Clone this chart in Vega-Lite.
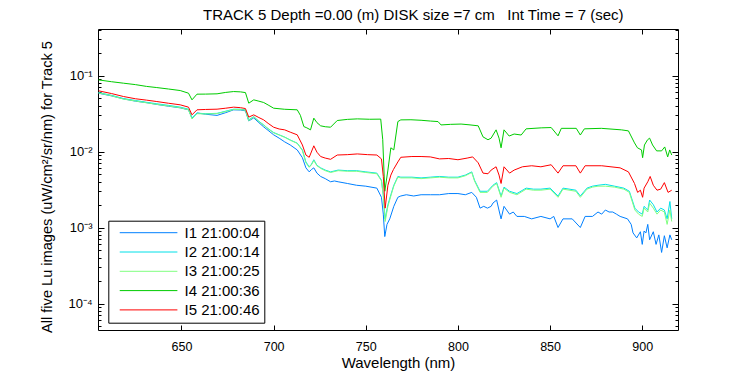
{
"$schema": "https://vega.github.io/schema/vega-lite/v6.json",
"width": 580, "height": 301,
"autosize": {"type": "none"},
"padding": {"left": 98, "top": 29, "right": 72, "bottom": 45},
"background": "white",
"config": {"view": {"stroke": "black", "strokeWidth": 1}, "font": "Liberation Sans",
  "axis": {"grid": false, "domainColor": "black", "tickColor": "black", "labelColor": "black", "titleColor": "black", "titleFontWeight": "normal", "labelFont": "Liberation Sans", "titleFont": "Liberation Sans"}},
"title": {"text": "TRACK 5 Depth =0.00 (m) DISK size =7 cm\u00a0\u00a0 Int Time = 7 (sec)", "anchor": "start", "frame": "group", "dx": 105, "offset": 6, "fontSize": 15, "fontWeight": "normal", "font": "Liberation Sans", "color": "black"},
"datasets": {"d": [
{"s":"I1 21:00:04","wl":605,"v":0.0586},{"s":"I1 21:00:04","wl":612,"v":0.054},{"s":"I1 21:00:04","wl":618.5,"v":0.0494},{"s":"I1 21:00:04","wl":625,"v":0.046},{"s":"I1 21:00:04","wl":631,"v":0.044},{"s":"I1 21:00:04","wl":636.6,"v":0.0417},{"s":"I1 21:00:04","wl":643,"v":0.0395},{"s":"I1 21:00:04","wl":649.3,"v":0.0376},{"s":"I1 21:00:04","wl":653.8,"v":0.0354},{"s":"I1 21:00:04","wl":655.7,"v":0.0277},{"s":"I1 21:00:04","wl":658.4,"v":0.0322},{"s":"I1 21:00:04","wl":663,"v":0.031},{"s":"I1 21:00:04","wl":669.3,"v":0.0299},{"s":"I1 21:00:04","wl":674,"v":0.0325},{"s":"I1 21:00:04","wl":678.3,"v":0.0354},{"s":"I1 21:00:04","wl":682,"v":0.0352},{"s":"I1 21:00:04","wl":684.7,"v":0.0343},{"s":"I1 21:00:04","wl":686.5,"v":0.0253},{"s":"I1 21:00:04","wl":689.2,"v":0.0277},{"s":"I1 21:00:04","wl":692,"v":0.024},{"s":"I1 21:00:04","wl":694.6,"v":0.0211},{"s":"I1 21:00:04","wl":697,"v":0.019},{"s":"I1 21:00:04","wl":700,"v":0.0166},{"s":"I1 21:00:04","wl":703,"v":0.015},{"s":"I1 21:00:04","wl":706,"v":0.0134},{"s":"I1 21:00:04","wl":709,"v":0.0122},{"s":"I1 21:00:04","wl":712.8,"v":0.0105},{"s":"I1 21:00:04","wl":715.6,"v":0.0083},{"s":"I1 21:00:04","wl":717.5,"v":0.0061},{"s":"I1 21:00:04","wl":719.3,"v":0.0054},{"s":"I1 21:00:04","wl":720.5,"v":0.0058},{"s":"I1 21:00:04","wl":721.8,"v":0.0061},{"s":"I1 21:00:04","wl":723.5,"v":0.0052},{"s":"I1 21:00:04","wl":725.5,"v":0.0047},{"s":"I1 21:00:04","wl":728,"v":0.0044},{"s":"I1 21:00:04","wl":730.9,"v":0.004},{"s":"I1 21:00:04","wl":733,"v":0.0041},{"s":"I1 21:00:04","wl":735,"v":0.004},{"s":"I1 21:00:04","wl":740,"v":0.0038},{"s":"I1 21:00:04","wl":745,"v":0.0036},{"s":"I1 21:00:04","wl":750,"v":0.0035},{"s":"I1 21:00:04","wl":756,"v":0.0033},{"s":"I1 21:00:04","wl":758.5,"v":0.0025},{"s":"I1 21:00:04","wl":759.5,"v":0.0015},{"s":"I1 21:00:04","wl":760.3,"v":0.00076},{"s":"I1 21:00:04","wl":761.5,"v":0.0011},{"s":"I1 21:00:04","wl":763,"v":0.0013},{"s":"I1 21:00:04","wl":765.2,"v":0.0019},{"s":"I1 21:00:04","wl":767.4,"v":0.0025},{"s":"I1 21:00:04","wl":769,"v":0.0026},{"s":"I1 21:00:04","wl":772,"v":0.0027},{"s":"I1 21:00:04","wl":776,"v":0.0026},{"s":"I1 21:00:04","wl":780,"v":0.0027},{"s":"I1 21:00:04","wl":785,"v":0.0027},{"s":"I1 21:00:04","wl":790,"v":0.0027},{"s":"I1 21:00:04","wl":795,"v":0.0028},{"s":"I1 21:00:04","wl":800,"v":0.0028},{"s":"I1 21:00:04","wl":804,"v":0.0027},{"s":"I1 21:00:04","wl":807.5,"v":0.0029},{"s":"I1 21:00:04","wl":810,"v":0.0025},{"s":"I1 21:00:04","wl":812,"v":0.0018},{"s":"I1 21:00:04","wl":814,"v":0.0019},{"s":"I1 21:00:04","wl":816,"v":0.0018},{"s":"I1 21:00:04","wl":818,"v":0.0019},{"s":"I1 21:00:04","wl":819,"v":0.0021},{"s":"I1 21:00:04","wl":821,"v":0.0023},{"s":"I1 21:00:04","wl":822.5,"v":0.0016},{"s":"I1 21:00:04","wl":823.4,"v":0.0013},{"s":"I1 21:00:04","wl":825,"v":0.0019},{"s":"I1 21:00:04","wl":828,"v":0.0015},{"s":"I1 21:00:04","wl":830,"v":0.0016},{"s":"I1 21:00:04","wl":832,"v":0.0014},{"s":"I1 21:00:04","wl":836,"v":0.0014},{"s":"I1 21:00:04","wl":840,"v":0.0013},{"s":"I1 21:00:04","wl":845,"v":0.0014},{"s":"I1 21:00:04","wl":850,"v":0.0013},{"s":"I1 21:00:04","wl":852,"v":0.0014},{"s":"I1 21:00:04","wl":854.3,"v":0.001},{"s":"I1 21:00:04","wl":857,"v":0.0013},{"s":"I1 21:00:04","wl":862,"v":0.0013},{"s":"I1 21:00:04","wl":866.4,"v":0.001},{"s":"I1 21:00:04","wl":869,"v":0.0014},{"s":"I1 21:00:04","wl":873,"v":0.0014},{"s":"I1 21:00:04","wl":876,"v":0.0016},{"s":"I1 21:00:04","wl":878,"v":0.0015},{"s":"I1 21:00:04","wl":880,"v":0.0017},{"s":"I1 21:00:04","wl":882,"v":0.0016},{"s":"I1 21:00:04","wl":884,"v":0.0016},{"s":"I1 21:00:04","wl":886,"v":0.0015},{"s":"I1 21:00:04","wl":888,"v":0.0014},{"s":"I1 21:00:04","wl":892,"v":0.0013},{"s":"I1 21:00:04","wl":894,"v":0.0011},{"s":"I1 21:00:04","wl":895,"v":0.00085},{"s":"I1 21:00:04","wl":897,"v":0.00073},{"s":"I1 21:00:04","wl":899,"v":0.00088},{"s":"I1 21:00:04","wl":900,"v":0.0006},{"s":"I1 21:00:04","wl":901,"v":0.0009},{"s":"I1 21:00:04","wl":902,"v":0.00085},{"s":"I1 21:00:04","wl":903,"v":0.0011},{"s":"I1 21:00:04","wl":904,"v":0.00069},{"s":"I1 21:00:04","wl":906,"v":0.00088},{"s":"I1 21:00:04","wl":907.5,"v":0.0006},{"s":"I1 21:00:04","wl":909,"v":0.0008},{"s":"I1 21:00:04","wl":910.5,"v":0.00047},{"s":"I1 21:00:04","wl":912,"v":0.00078},{"s":"I1 21:00:04","wl":913.5,"v":0.00054},{"s":"I1 21:00:04","wl":915,"v":0.0008},{"s":"I1 21:00:04","wl":916,"v":0.00069},
{"s":"I2 21:00:14","wl":605,"v":0.0597},{"s":"I2 21:00:14","wl":612,"v":0.055},{"s":"I2 21:00:14","wl":618.5,"v":0.0498},{"s":"I2 21:00:14","wl":625,"v":0.047},{"s":"I2 21:00:14","wl":631,"v":0.0445},{"s":"I2 21:00:14","wl":636.6,"v":0.0425},{"s":"I2 21:00:14","wl":643,"v":0.0405},{"s":"I2 21:00:14","wl":649.3,"v":0.0384},{"s":"I2 21:00:14","wl":653.8,"v":0.0361},{"s":"I2 21:00:14","wl":655.7,"v":0.0275},{"s":"I2 21:00:14","wl":658.4,"v":0.032},{"s":"I2 21:00:14","wl":663,"v":0.0315},{"s":"I2 21:00:14","wl":669.3,"v":0.0318},{"s":"I2 21:00:14","wl":674,"v":0.034},{"s":"I2 21:00:14","wl":678.3,"v":0.0361},{"s":"I2 21:00:14","wl":682,"v":0.036},{"s":"I2 21:00:14","wl":684.7,"v":0.0354},{"s":"I2 21:00:14","wl":686.5,"v":0.0261},{"s":"I2 21:00:14","wl":689.2,"v":0.0289},{"s":"I2 21:00:14","wl":692,"v":0.025},{"s":"I2 21:00:14","wl":694.6,"v":0.0224},{"s":"I2 21:00:14","wl":697,"v":0.02},{"s":"I2 21:00:14","wl":700,"v":0.0178},{"s":"I2 21:00:14","wl":703,"v":0.0166},{"s":"I2 21:00:14","wl":706,"v":0.0155},{"s":"I2 21:00:14","wl":709,"v":0.0142},{"s":"I2 21:00:14","wl":712.8,"v":0.0129},{"s":"I2 21:00:14","wl":715.6,"v":0.0105},{"s":"I2 21:00:14","wl":717.5,"v":0.0073},{"s":"I2 21:00:14","wl":719.3,"v":0.0063},{"s":"I2 21:00:14","wl":720.5,"v":0.0068},{"s":"I2 21:00:14","wl":721.8,"v":0.0078},{"s":"I2 21:00:14","wl":723.5,"v":0.0066},{"s":"I2 21:00:14","wl":725.5,"v":0.0061},{"s":"I2 21:00:14","wl":728,"v":0.0057},{"s":"I2 21:00:14","wl":730.9,"v":0.0054},{"s":"I2 21:00:14","wl":735,"v":0.0057},{"s":"I2 21:00:14","wl":740,"v":0.0056},{"s":"I2 21:00:14","wl":745,"v":0.0056},{"s":"I2 21:00:14","wl":750,"v":0.0054},{"s":"I2 21:00:14","wl":756,"v":0.0052},{"s":"I2 21:00:14","wl":758.5,"v":0.0042},{"s":"I2 21:00:14","wl":759.5,"v":0.0027},{"s":"I2 21:00:14","wl":760.5,"v":0.0013},{"s":"I2 21:00:14","wl":762,"v":0.002},{"s":"I2 21:00:14","wl":763.6,"v":0.0027},{"s":"I2 21:00:14","wl":765.2,"v":0.0036},{"s":"I2 21:00:14","wl":767.4,"v":0.0047},{"s":"I2 21:00:14","wl":769,"v":0.0046},{"s":"I2 21:00:14","wl":775,"v":0.0046},{"s":"I2 21:00:14","wl":780,"v":0.0045},{"s":"I2 21:00:14","wl":785,"v":0.0046},{"s":"I2 21:00:14","wl":790,"v":0.0047},{"s":"I2 21:00:14","wl":795,"v":0.0046},{"s":"I2 21:00:14","wl":800,"v":0.0046},{"s":"I2 21:00:14","wl":804,"v":0.0049},{"s":"I2 21:00:14","wl":807.5,"v":0.0054},{"s":"I2 21:00:14","wl":809,"v":0.0042},{"s":"I2 21:00:14","wl":812,"v":0.003},{"s":"I2 21:00:14","wl":816,"v":0.003},{"s":"I2 21:00:14","wl":819,"v":0.0036},{"s":"I2 21:00:14","wl":821,"v":0.0039},{"s":"I2 21:00:14","wl":823.4,"v":0.0026},{"s":"I2 21:00:14","wl":825,"v":0.0034},{"s":"I2 21:00:14","wl":828,"v":0.003},{"s":"I2 21:00:14","wl":832,"v":0.0028},{"s":"I2 21:00:14","wl":837,"v":0.0033},{"s":"I2 21:00:14","wl":841,"v":0.0032},{"s":"I2 21:00:14","wl":845,"v":0.0032},{"s":"I2 21:00:14","wl":850,"v":0.0033},{"s":"I2 21:00:14","wl":854.3,"v":0.0026},{"s":"I2 21:00:14","wl":857,"v":0.0033},{"s":"I2 21:00:14","wl":864,"v":0.0031},{"s":"I2 21:00:14","wl":866.4,"v":0.0026},{"s":"I2 21:00:14","wl":870,"v":0.0033},{"s":"I2 21:00:14","wl":873,"v":0.0035},{"s":"I2 21:00:14","wl":876,"v":0.0036},{"s":"I2 21:00:14","wl":880,"v":0.0037},{"s":"I2 21:00:14","wl":885,"v":0.0035},{"s":"I2 21:00:14","wl":890,"v":0.0033},{"s":"I2 21:00:14","wl":893,"v":0.003},{"s":"I2 21:00:14","wl":896,"v":0.0018},{"s":"I2 21:00:14","wl":898,"v":0.0016},{"s":"I2 21:00:14","wl":900,"v":0.0015},{"s":"I2 21:00:14","wl":901,"v":0.0019},{"s":"I2 21:00:14","wl":903,"v":0.0017},{"s":"I2 21:00:14","wl":904,"v":0.0023},{"s":"I2 21:00:14","wl":906,"v":0.002},{"s":"I2 21:00:14","wl":908,"v":0.0016},{"s":"I2 21:00:14","wl":910,"v":0.0018},{"s":"I2 21:00:14","wl":912,"v":0.0017},{"s":"I2 21:00:14","wl":913.5,"v":0.0013},{"s":"I2 21:00:14","wl":915,"v":0.0022},{"s":"I2 21:00:14","wl":916,"v":0.0013},
{"s":"I3 21:00:25","wl":605,"v":0.059},{"s":"I3 21:00:25","wl":612,"v":0.0543},{"s":"I3 21:00:25","wl":618.5,"v":0.049},{"s":"I3 21:00:25","wl":625,"v":0.0463},{"s":"I3 21:00:25","wl":631,"v":0.0438},{"s":"I3 21:00:25","wl":636.6,"v":0.0418},{"s":"I3 21:00:25","wl":643,"v":0.0398},{"s":"I3 21:00:25","wl":649.3,"v":0.0378},{"s":"I3 21:00:25","wl":653.8,"v":0.0355},{"s":"I3 21:00:25","wl":655.7,"v":0.0268},{"s":"I3 21:00:25","wl":658.4,"v":0.0315},{"s":"I3 21:00:25","wl":663,"v":0.0312},{"s":"I3 21:00:25","wl":669.3,"v":0.0316},{"s":"I3 21:00:25","wl":674,"v":0.0336},{"s":"I3 21:00:25","wl":678.3,"v":0.0357},{"s":"I3 21:00:25","wl":682,"v":0.0356},{"s":"I3 21:00:25","wl":684.7,"v":0.035},{"s":"I3 21:00:25","wl":686.5,"v":0.0255},{"s":"I3 21:00:25","wl":689.2,"v":0.0286},{"s":"I3 21:00:25","wl":692,"v":0.0248},{"s":"I3 21:00:25","wl":694.6,"v":0.0222},{"s":"I3 21:00:25","wl":697,"v":0.0199},{"s":"I3 21:00:25","wl":700,"v":0.0176},{"s":"I3 21:00:25","wl":703,"v":0.0165},{"s":"I3 21:00:25","wl":706,"v":0.0154},{"s":"I3 21:00:25","wl":709,"v":0.0141},{"s":"I3 21:00:25","wl":712.8,"v":0.0128},{"s":"I3 21:00:25","wl":715.6,"v":0.0103},{"s":"I3 21:00:25","wl":717.5,"v":0.0071},{"s":"I3 21:00:25","wl":719.3,"v":0.0062},{"s":"I3 21:00:25","wl":720.5,"v":0.0067},{"s":"I3 21:00:25","wl":721.8,"v":0.0076},{"s":"I3 21:00:25","wl":723.5,"v":0.0065},{"s":"I3 21:00:25","wl":725.5,"v":0.006},{"s":"I3 21:00:25","wl":728,"v":0.0056},{"s":"I3 21:00:25","wl":730.9,"v":0.0053},{"s":"I3 21:00:25","wl":735,"v":0.0056},{"s":"I3 21:00:25","wl":740,"v":0.0055},{"s":"I3 21:00:25","wl":745,"v":0.0055},{"s":"I3 21:00:25","wl":750,"v":0.0053},{"s":"I3 21:00:25","wl":756,"v":0.0051},{"s":"I3 21:00:25","wl":758.5,"v":0.0041},{"s":"I3 21:00:25","wl":759.5,"v":0.0026},{"s":"I3 21:00:25","wl":760.5,"v":0.0012},{"s":"I3 21:00:25","wl":762,"v":0.0019},{"s":"I3 21:00:25","wl":763.6,"v":0.0026},{"s":"I3 21:00:25","wl":765.2,"v":0.0035},{"s":"I3 21:00:25","wl":767.4,"v":0.0046},{"s":"I3 21:00:25","wl":769,"v":0.0045},{"s":"I3 21:00:25","wl":775,"v":0.0045},{"s":"I3 21:00:25","wl":780,"v":0.0044},{"s":"I3 21:00:25","wl":785,"v":0.0045},{"s":"I3 21:00:25","wl":790,"v":0.0046},{"s":"I3 21:00:25","wl":795,"v":0.0045},{"s":"I3 21:00:25","wl":800,"v":0.0045},{"s":"I3 21:00:25","wl":804,"v":0.0048},{"s":"I3 21:00:25","wl":807.5,"v":0.0053},{"s":"I3 21:00:25","wl":809,"v":0.0041},{"s":"I3 21:00:25","wl":812,"v":0.0029},{"s":"I3 21:00:25","wl":816,"v":0.0029},{"s":"I3 21:00:25","wl":819,"v":0.0035},{"s":"I3 21:00:25","wl":821,"v":0.0038},{"s":"I3 21:00:25","wl":823.4,"v":0.0025},{"s":"I3 21:00:25","wl":825,"v":0.0033},{"s":"I3 21:00:25","wl":828,"v":0.0029},{"s":"I3 21:00:25","wl":832,"v":0.0027},{"s":"I3 21:00:25","wl":837,"v":0.0032},{"s":"I3 21:00:25","wl":841,"v":0.0031},{"s":"I3 21:00:25","wl":845,"v":0.0031},{"s":"I3 21:00:25","wl":850,"v":0.0032},{"s":"I3 21:00:25","wl":854.3,"v":0.0025},{"s":"I3 21:00:25","wl":857,"v":0.0032},{"s":"I3 21:00:25","wl":864,"v":0.003},{"s":"I3 21:00:25","wl":866.4,"v":0.0025},{"s":"I3 21:00:25","wl":870,"v":0.0032},{"s":"I3 21:00:25","wl":873,"v":0.0034},{"s":"I3 21:00:25","wl":876,"v":0.0035},{"s":"I3 21:00:25","wl":880,"v":0.0035},{"s":"I3 21:00:25","wl":885,"v":0.0034},{"s":"I3 21:00:25","wl":890,"v":0.0032},{"s":"I3 21:00:25","wl":893,"v":0.0029},{"s":"I3 21:00:25","wl":896,"v":0.0017},{"s":"I3 21:00:25","wl":898,"v":0.0015},{"s":"I3 21:00:25","wl":900,"v":0.0014},{"s":"I3 21:00:25","wl":901,"v":0.0018},{"s":"I3 21:00:25","wl":903,"v":0.0016},{"s":"I3 21:00:25","wl":904,"v":0.0021},{"s":"I3 21:00:25","wl":906,"v":0.0018},{"s":"I3 21:00:25","wl":908,"v":0.0015},{"s":"I3 21:00:25","wl":910,"v":0.0017},{"s":"I3 21:00:25","wl":912,"v":0.0016},{"s":"I3 21:00:25","wl":913.5,"v":0.0011},{"s":"I3 21:00:25","wl":915,"v":0.0017},{"s":"I3 21:00:25","wl":916,"v":0.0012},
{"s":"I4 21:00:36","wl":605,"v":0.0877},{"s":"I4 21:00:36","wl":612,"v":0.083},{"s":"I4 21:00:36","wl":618.5,"v":0.0794},{"s":"I4 21:00:36","wl":625,"v":0.076},{"s":"I4 21:00:36","wl":631,"v":0.072},{"s":"I4 21:00:36","wl":636.6,"v":0.0695},{"s":"I4 21:00:36","wl":643,"v":0.0665},{"s":"I4 21:00:36","wl":649.3,"v":0.0635},{"s":"I4 21:00:36","wl":653.8,"v":0.0586},{"s":"I4 21:00:36","wl":655.7,"v":0.0479},{"s":"I4 21:00:36","wl":658.4,"v":0.0569},{"s":"I4 21:00:36","wl":663,"v":0.057},{"s":"I4 21:00:36","wl":669.3,"v":0.0575},{"s":"I4 21:00:36","wl":674,"v":0.06},{"s":"I4 21:00:36","wl":678.3,"v":0.0616},{"s":"I4 21:00:36","wl":682,"v":0.061},{"s":"I4 21:00:36","wl":684.7,"v":0.0597},{"s":"I4 21:00:36","wl":686.5,"v":0.0433},{"s":"I4 21:00:36","wl":689.2,"v":0.0479},{"s":"I4 21:00:36","wl":692,"v":0.046},{"s":"I4 21:00:36","wl":694.6,"v":0.0442},{"s":"I4 21:00:36","wl":697,"v":0.041},{"s":"I4 21:00:36","wl":700,"v":0.0372},{"s":"I4 21:00:36","wl":706,"v":0.036},{"s":"I4 21:00:36","wl":712.8,"v":0.0354},{"s":"I4 21:00:36","wl":714.5,"v":0.03},{"s":"I4 21:00:36","wl":716.4,"v":0.0213},{"s":"I4 21:00:36","wl":718,"v":0.0205},{"s":"I4 21:00:36","wl":720,"v":0.0193},{"s":"I4 21:00:36","wl":721.8,"v":0.0275},{"s":"I4 21:00:36","wl":723.5,"v":0.024},{"s":"I4 21:00:36","wl":725.5,"v":0.0218},{"s":"I4 21:00:36","wl":728,"v":0.0212},{"s":"I4 21:00:36","wl":730.9,"v":0.0209},{"s":"I4 21:00:36","wl":734.5,"v":0.0256},{"s":"I4 21:00:36","wl":740,"v":0.0265},{"s":"I4 21:00:36","wl":745.4,"v":0.0269},{"s":"I4 21:00:36","wl":752,"v":0.0266},{"s":"I4 21:00:36","wl":758.1,"v":0.0267},{"s":"I4 21:00:36","wl":759.2,"v":0.0143},{"s":"I4 21:00:36","wl":760.3,"v":0.003},{"s":"I4 21:00:36","wl":762,"v":0.0057},{"s":"I4 21:00:36","wl":763.6,"v":0.0112},{"s":"I4 21:00:36","wl":765.2,"v":0.0105},{"s":"I4 21:00:36","wl":767.4,"v":0.0248},{"s":"I4 21:00:36","wl":769,"v":0.0261},{"s":"I4 21:00:36","wl":774.5,"v":0.0262},{"s":"I4 21:00:36","wl":780,"v":0.0258},{"s":"I4 21:00:36","wl":785,"v":0.0252},{"s":"I4 21:00:36","wl":789.2,"v":0.0248},{"s":"I4 21:00:36","wl":790.8,"v":0.0224},{"s":"I4 21:00:36","wl":796,"v":0.0228},{"s":"I4 21:00:36","wl":801.7,"v":0.023},{"s":"I4 21:00:36","wl":806,"v":0.0225},{"s":"I4 21:00:36","wl":811,"v":0.0218},{"s":"I4 21:00:36","wl":813.6,"v":0.0156},{"s":"I4 21:00:36","wl":816.3,"v":0.0143},{"s":"I4 21:00:36","wl":818,"v":0.015},{"s":"I4 21:00:36","wl":820.7,"v":0.0193},{"s":"I4 21:00:36","wl":822.3,"v":0.015},{"s":"I4 21:00:36","wl":823.4,"v":0.0112},{"s":"I4 21:00:36","wl":825,"v":0.0193},{"s":"I4 21:00:36","wl":827.8,"v":0.016},{"s":"I4 21:00:36","wl":830.5,"v":0.017},{"s":"I4 21:00:36","wl":834.3,"v":0.0165},{"s":"I4 21:00:36","wl":837,"v":0.0199},{"s":"I4 21:00:36","wl":845.2,"v":0.0205},{"s":"I4 21:00:36","wl":850.6,"v":0.0207},{"s":"I4 21:00:36","wl":854.3,"v":0.0161},{"s":"I4 21:00:36","wl":856.1,"v":0.0202},{"s":"I4 21:00:36","wl":864.2,"v":0.0202},{"s":"I4 21:00:36","wl":866.4,"v":0.0165},{"s":"I4 21:00:36","wl":868.6,"v":0.0199},{"s":"I4 21:00:36","wl":877.8,"v":0.0202},{"s":"I4 21:00:36","wl":888.7,"v":0.0193},{"s":"I4 21:00:36","wl":892.5,"v":0.0187},{"s":"I4 21:00:36","wl":895.8,"v":0.013},{"s":"I4 21:00:36","wl":897.4,"v":0.0112},{"s":"I4 21:00:36","wl":899.6,"v":0.0105},{"s":"I4 21:00:36","wl":900.2,"v":0.0083},{"s":"I4 21:00:36","wl":901.2,"v":0.0122},{"s":"I4 21:00:36","wl":902.9,"v":0.0143},{"s":"I4 21:00:36","wl":904,"v":0.015},{"s":"I4 21:00:36","wl":905.6,"v":0.0122},{"s":"I4 21:00:36","wl":907.8,"v":0.0102},{"s":"I4 21:00:36","wl":910.5,"v":0.0102},{"s":"I4 21:00:36","wl":912.2,"v":0.0115},{"s":"I4 21:00:36","wl":913.8,"v":0.0085},{"s":"I4 21:00:36","wl":914.9,"v":0.0105},{"s":"I4 21:00:36","wl":916,"v":0.009},
{"s":"I5 21:00:46","wl":605,"v":0.063},{"s":"I5 21:00:46","wl":612,"v":0.058},{"s":"I5 21:00:46","wl":618.5,"v":0.053},{"s":"I5 21:00:46","wl":625,"v":0.0495},{"s":"I5 21:00:46","wl":631,"v":0.0475},{"s":"I5 21:00:46","wl":636.6,"v":0.0455},{"s":"I5 21:00:46","wl":643,"v":0.0432},{"s":"I5 21:00:46","wl":649.3,"v":0.0412},{"s":"I5 21:00:46","wl":653.8,"v":0.0384},{"s":"I5 21:00:46","wl":655.7,"v":0.0304},{"s":"I5 21:00:46","wl":658.4,"v":0.0354},{"s":"I5 21:00:46","wl":663,"v":0.0358},{"s":"I5 21:00:46","wl":669.3,"v":0.0361},{"s":"I5 21:00:46","wl":674,"v":0.0372},{"s":"I5 21:00:46","wl":678.3,"v":0.0384},{"s":"I5 21:00:46","wl":682,"v":0.0378},{"s":"I5 21:00:46","wl":684.7,"v":0.0368},{"s":"I5 21:00:46","wl":686.5,"v":0.0284},{"s":"I5 21:00:46","wl":689.2,"v":0.0304},{"s":"I5 21:00:46","wl":692,"v":0.028},{"s":"I5 21:00:46","wl":694.6,"v":0.0261},{"s":"I5 21:00:46","wl":697,"v":0.0235},{"s":"I5 21:00:46","wl":700,"v":0.0209},{"s":"I5 21:00:46","wl":703,"v":0.0198},{"s":"I5 21:00:46","wl":706,"v":0.0193},{"s":"I5 21:00:46","wl":709,"v":0.018},{"s":"I5 21:00:46","wl":712.8,"v":0.0166},{"s":"I5 21:00:46","wl":715.6,"v":0.0122},{"s":"I5 21:00:46","wl":717.5,"v":0.009},{"s":"I5 21:00:46","wl":719.3,"v":0.0084},{"s":"I5 21:00:46","wl":721.8,"v":0.0119},{"s":"I5 21:00:46","wl":723.5,"v":0.0098},{"s":"I5 21:00:46","wl":725.5,"v":0.0086},{"s":"I5 21:00:46","wl":728,"v":0.0082},{"s":"I5 21:00:46","wl":730.9,"v":0.0079},{"s":"I5 21:00:46","wl":734.5,"v":0.009},{"s":"I5 21:00:46","wl":740,"v":0.0091},{"s":"I5 21:00:46","wl":745.4,"v":0.0093},{"s":"I5 21:00:46","wl":751,"v":0.0091},{"s":"I5 21:00:46","wl":756,"v":0.009},{"s":"I5 21:00:46","wl":758.5,"v":0.008},{"s":"I5 21:00:46","wl":759.5,"v":0.0047},{"s":"I5 21:00:46","wl":760.5,"v":0.0018},{"s":"I5 21:00:46","wl":762,"v":0.0036},{"s":"I5 21:00:46","wl":763.6,"v":0.0049},{"s":"I5 21:00:46","wl":765,"v":0.0058},{"s":"I5 21:00:46","wl":767.4,"v":0.0073},{"s":"I5 21:00:46","wl":769,"v":0.0084},{"s":"I5 21:00:46","wl":775,"v":0.0086},{"s":"I5 21:00:46","wl":780,"v":0.0086},{"s":"I5 21:00:46","wl":785,"v":0.0085},{"s":"I5 21:00:46","wl":790,"v":0.008},{"s":"I5 21:00:46","wl":795,"v":0.0081},{"s":"I5 21:00:46","wl":800,"v":0.0078},{"s":"I5 21:00:46","wl":805,"v":0.0082},{"s":"I5 21:00:46","wl":808,"v":0.0085},{"s":"I5 21:00:46","wl":811,"v":0.0071},{"s":"I5 21:00:46","wl":813.6,"v":0.0052},{"s":"I5 21:00:46","wl":816.3,"v":0.0051},{"s":"I5 21:00:46","wl":818,"v":0.0057},{"s":"I5 21:00:46","wl":820.7,"v":0.0063},{"s":"I5 21:00:46","wl":822.3,"v":0.0049},{"s":"I5 21:00:46","wl":823.4,"v":0.0038},{"s":"I5 21:00:46","wl":825,"v":0.0063},{"s":"I5 21:00:46","wl":828,"v":0.0052},{"s":"I5 21:00:46","wl":830.5,"v":0.0057},{"s":"I5 21:00:46","wl":835,"v":0.0063},{"s":"I5 21:00:46","wl":840,"v":0.0065},{"s":"I5 21:00:46","wl":845,"v":0.0063},{"s":"I5 21:00:46","wl":850.6,"v":0.0067},{"s":"I5 21:00:46","wl":854.3,"v":0.0052},{"s":"I5 21:00:46","wl":857,"v":0.0065},{"s":"I5 21:00:46","wl":864,"v":0.0065},{"s":"I5 21:00:46","wl":866.4,"v":0.0052},{"s":"I5 21:00:46","wl":869,"v":0.0065},{"s":"I5 21:00:46","wl":878,"v":0.0065},{"s":"I5 21:00:46","wl":888,"v":0.0061},{"s":"I5 21:00:46","wl":892.5,"v":0.0054},{"s":"I5 21:00:46","wl":895.8,"v":0.0038},{"s":"I5 21:00:46","wl":897.5,"v":0.0029},{"s":"I5 21:00:46","wl":899,"v":0.0031},{"s":"I5 21:00:46","wl":900.2,"v":0.0025},{"s":"I5 21:00:46","wl":901,"v":0.0033},{"s":"I5 21:00:46","wl":903,"v":0.004},{"s":"I5 21:00:46","wl":904.3,"v":0.0047},{"s":"I5 21:00:46","wl":906,"v":0.0036},{"s":"I5 21:00:46","wl":908,"v":0.0031},{"s":"I5 21:00:46","wl":910,"v":0.0032},{"s":"I5 21:00:46","wl":912,"v":0.0039},{"s":"I5 21:00:46","wl":914,"v":0.0029},{"s":"I5 21:00:46","wl":916,"v":0.0031}
]},
"data": {"name": "d"},
"layer": [
 {"mark": {"type": "line", "strokeWidth": 1},
  "encoding": {
   "x": {"field": "wl", "type": "quantitative", "scale": {"domain": [604.7, 919.4], "nice": false, "zero": false},
     "axis": {"orient": "bottom", "values": [650, 700, 750, 800, 850, 900], "tickSize": -5, "labelPadding": 15, "labelFontSize": 12.5, "domain": false, "title": "Wavelength (nm)", "titleFontSize": 15, "titleX": 300, "titleY": 37, "titleBaseline": "alphabetic"}},
   "y": {"field": "v", "type": "quantitative", "scale": {"type": "log", "domain": [0.0000448, 0.41], "nice": false},
     "axis": {"orient": "left", "values": [0.0001, 0.001, 0.01, 0.1], "tickSize": -6, "labelPadding": 12, "labelFontSize": 13, "domain": false,
       "labelExpr": "datum.value > 0.05 ? '10\u207b\u00b9' : datum.value > 0.005 ? '10\u207b\u00b2' : datum.value > 0.0005 ? '10\u207b\u00b3' : '10\u207b\u2074'",
       "title": "All five Lu images (uW/cm\u00b2/sr/nm) for Track 5", "titleFontSize": 14.6, "titleX": -51, "titleY": 157.5, "titleBaseline": "middle", "titleAlign": "center"}},
   "color": {"field": "s", "type": "nominal", "sort": ["I1 21:00:04", "I2 21:00:14", "I3 21:00:25", "I4 21:00:36", "I5 21:00:46"],
     "scale": {"domain": ["I1 21:00:04", "I2 21:00:14", "I3 21:00:25", "I4 21:00:36", "I5 21:00:46"], "range": ["#0080FF", "#00E0E8", "#80FF80", "#00CC00", "#FF0000"]},
     "legend": {"title": null, "orient": "none", "legendX": 10.3, "legendY": 191.7, "padding": 4, "strokeColor": "black", "fillColor": "white", "cornerRadius": 0,
       "symbolType": "M-0.08,0H7.88", "symbolSize": 210, "symbolStrokeWidth": 1, "labelOffset": 56.2, "labelFontSize": 15, "labelColor": "black", "labelFont": "Liberation Sans", "rowPadding": 3.3}}
  }},
 {"mark": {"type": "line", "opacity": 0},
  "encoding": {
   "x": {"field": "wl", "type": "quantitative", "scale": {"domain": [604.7, 919.4], "nice": false, "zero": false},
     "axis": {"orient": "top", "values": [650, 700, 750, 800, 850, 900], "tickSize": -5, "labels": false, "domain": false, "title": null}},
   "y": {"field": "v", "type": "quantitative", "scale": {"type": "log", "domain": [0.0000448, 0.41], "nice": false},
     "axis": {"orient": "right", "values": [0.0001, 0.001, 0.01, 0.1], "tickSize": -6, "labels": false, "domain": false, "title": null}},
   "detail": {"field": "s"}
  }},
 {"mark": {"type": "line", "opacity": 0},
  "encoding": {
   "x": {"field": "wl", "type": "quantitative", "scale": {"domain": [604.7, 919.4], "nice": false, "zero": false}, "axis": null},
   "y": {"field": "v", "type": "quantitative", "scale": {"type": "log", "domain": [0.0000448, 0.41], "nice": false},
     "axis": {"orient": "left", "values": [0.00005,0.00006,0.00007,0.00008,0.00009,0.0002,0.0003,0.0004,0.0005,0.0006,0.0007,0.0008,0.0009,0.002,0.003,0.004,0.005,0.006,0.007,0.008,0.009,0.02,0.03,0.04,0.05,0.06,0.07,0.08,0.09,0.2,0.3,0.4], "tickSize": -3, "labels": false, "domain": false, "title": null}},
   "detail": {"field": "s"}
  }},
 {"mark": {"type": "line", "opacity": 0},
  "encoding": {
   "x": {"field": "wl", "type": "quantitative", "scale": {"domain": [604.7, 919.4], "nice": false, "zero": false}, "axis": null},
   "y": {"field": "v", "type": "quantitative", "scale": {"type": "log", "domain": [0.0000448, 0.41], "nice": false},
     "axis": {"orient": "right", "values": [0.00005,0.00006,0.00007,0.00008,0.00009,0.0002,0.0003,0.0004,0.0005,0.0006,0.0007,0.0008,0.0009,0.002,0.003,0.004,0.005,0.006,0.007,0.008,0.009,0.02,0.03,0.04,0.05,0.06,0.07,0.08,0.09,0.2,0.3,0.4], "tickSize": -3, "labels": false, "domain": false, "title": null}},
   "detail": {"field": "s"}
  }}
],
"resolve": {"axis": {"x": "independent", "y": "independent"}}
}
